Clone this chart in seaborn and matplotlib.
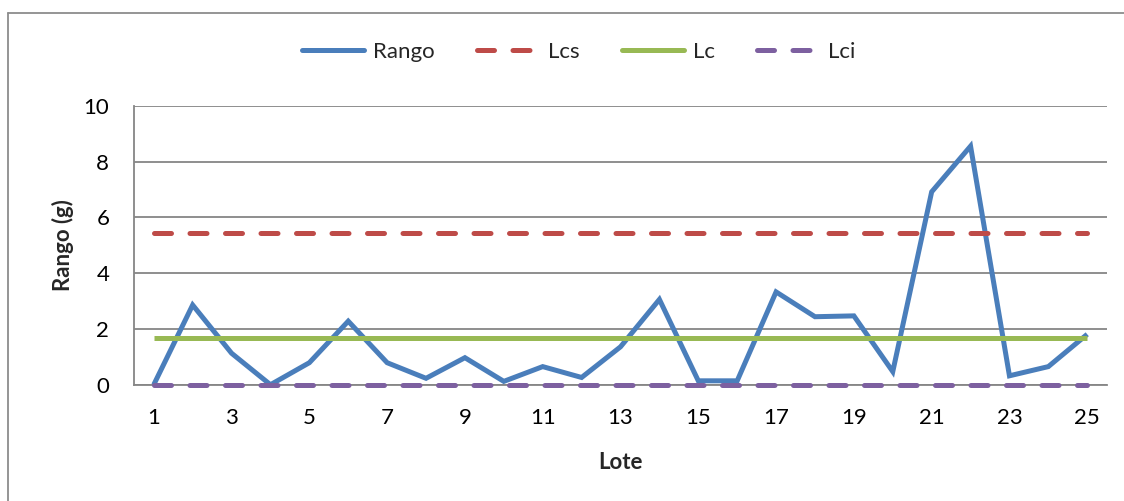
import matplotlib
matplotlib.use("Agg")
import matplotlib.pyplot as plt
from matplotlib.lines import Line2D
import seaborn as sns
import pandas as pd

# Range chart (R chart) per batch
lotes = list(range(1, 26))
rango = [0.00, 2.86, 1.13, 0.00, 0.79, 2.28, 0.79, 0.23, 0.97, 0.12,
         0.65, 0.26, 1.36, 3.06, 0.14, 0.14, 3.33, 2.44, 2.47, 0.47,
         6.92, 8.56, 0.32, 0.65, 1.81]
lcs = 5.45
lc = 1.66
lci = 0.0
series = ["Rango", "Lcs", "Lc", "Lci"]
x_ticks = list(range(1, 26, 2))
y_ticks = [0, 2, 4, 6, 8, 10]

colors = {"Rango": "#4A7EBB", "Lcs": "#BE4B48", "Lc": "#98B954", "Lci": "#7D60A0"}
dash_pat = (3.4, 3.7)
dashes = {"Rango": "", "Lcs": dash_pat, "Lc": "", "Lci": dash_pat}

df = pd.DataFrame({
    "Lote": lotes * 4,
    "valor": rango + [lcs] * 25 + [lc] * 25 + [lci] * 25,
    "serie": sum([[s] * 25 for s in series], []),
})

sns.set_theme(style="white")
plt.rcParams["font.family"] = ["Lato", "DejaVu Sans"]

fig = plt.figure(figsize=(11.24, 5.01), dpi=100)
ax = fig.add_axes([0.1195, 0.2321, 0.9846 - 0.1195, 0.7884 - 0.2321])

lw = 3.6
sns.lineplot(data=df, x="Lote", y="valor", hue="serie", style="serie",
             palette=colors, dashes=dashes, hue_order=series, style_order=series,
             linewidth=lw, legend=False, ax=ax, zorder=3)
for ln in ax.lines:
    ln.set_dash_capstyle("round")
    ln.set_solid_capstyle("butt")
    ln.set_solid_joinstyle("miter")
    ln.set_clip_on(False)

ax.set_xlim(0.5, 25.5)
ax.set_ylim(0, 10)
ax.set_xticks(x_ticks)
ax.set_yticks(y_ticks)
ax.yaxis.grid(True, color="#868686", linewidth=1.3)
ax.set_axisbelow(True)
for side in ["top", "right"]:
    ax.spines[side].set_visible(False)
for side in ["left", "bottom"]:
    ax.spines[side].set_color("#868686")
    ax.spines[side].set_linewidth(1.3)
    ax.spines[side].set_zorder(1)
ax.tick_params(axis="both", length=0, labelsize=16, colors="black", pad=18)
ax.tick_params(axis="x", pad=17)

ax.set_xlabel("Lote", fontsize=16, fontweight="bold", labelpad=17)
ax.set_ylabel("Rango (g)", fontsize=16, fontweight="bold", labelpad=7)

handles = []
for s in series:
    h = Line2D([0], [0], color=colors[s], linewidth=lw,
               linestyle="-" if dashes[s] == "" else (0, dash_pat))
    h.set_dash_capstyle("round")
    h.set_solid_capstyle("round")
    handles.append(h)
fig.legend(handles, series, loc="center", bbox_to_anchor=(0.515, 0.897), ncol=4,
           frameon=False, fontsize=16, handlelength=2.8, handletextpad=0.4,
           columnspacing=1.9)

# outer chart border
border_kw = dict(color="#8C8C8C", linewidth=1.3, transform=fig.transFigure)
fig.add_artist(Line2D([8 / 1124, 8 / 1124], [0, 1 - 13 / 501], **border_kw))
fig.add_artist(Line2D([8 / 1124, 1], [1 - 13 / 501, 1 - 13 / 501], **border_kw))

fig.savefig("out.png", dpi=100)
